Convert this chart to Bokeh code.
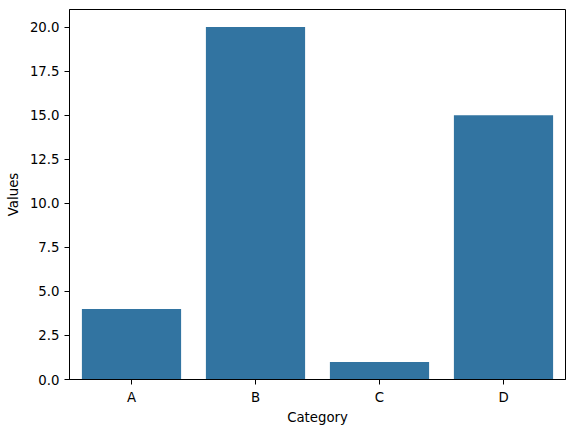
from bokeh.plotting import figure
from bokeh.models import FactorRange, Range1d, FixedTicker, NumeralTickFormatter
from bokeh.embed import file_html
from bokeh.resources import INLINE

categories = ["A", "B", "C", "D"]
values = [4, 20, 1, 15]
y_ticks = [0, 2.5, 5, 7.5, 10, 12.5, 15, 17.5, 20]

p = figure(x_range=FactorRange(*categories, range_padding=0),
           y_range=Range1d(0, 21),
           width=566, height=424, output_backend="svg", toolbar_location=None,
           min_border_left=69, min_border_right=1, min_border_top=9, min_border_bottom=45)
p.frame_width = 496
p.frame_height = 370

p.vbar(x=categories, top=values, width=0.8, fill_color="#3274a1", line_color=None)

p.xgrid.visible = False
p.ygrid.visible = False
p.outline_line_color = "black"
p.outline_line_width = 1
p.background_fill_color = "white"
p.border_fill_color = "white"

p.yaxis.ticker = FixedTicker(ticks=y_ticks)
p.yaxis.formatter = NumeralTickFormatter(format="0.0")
p.yaxis.minor_tick_line_color = None
p.xaxis.axis_label = "Category"
p.yaxis.axis_label = "Values"

for ax in (p.xaxis, p.yaxis):
    ax.axis_label_text_font = "DejaVu Sans"
    ax.axis_label_text_font_size = "13.3px"
    ax.axis_label_text_font_style = "normal"
    ax.axis_label_text_color = "black"
    ax.major_label_text_font = "DejaVu Sans"
    ax.major_label_text_font_size = "13.3px"
    ax.major_label_text_color = "black"
    ax.major_tick_in = 0
    ax.major_tick_out = 5
    ax.major_tick_line_color = "black"
    ax.axis_line_color = "black"
    ax.major_label_standoff = 5
p.xaxis.axis_label_standoff = 2
p.yaxis.axis_label_standoff = 6

open("out.html", "w").write(file_html(p, INLINE))
